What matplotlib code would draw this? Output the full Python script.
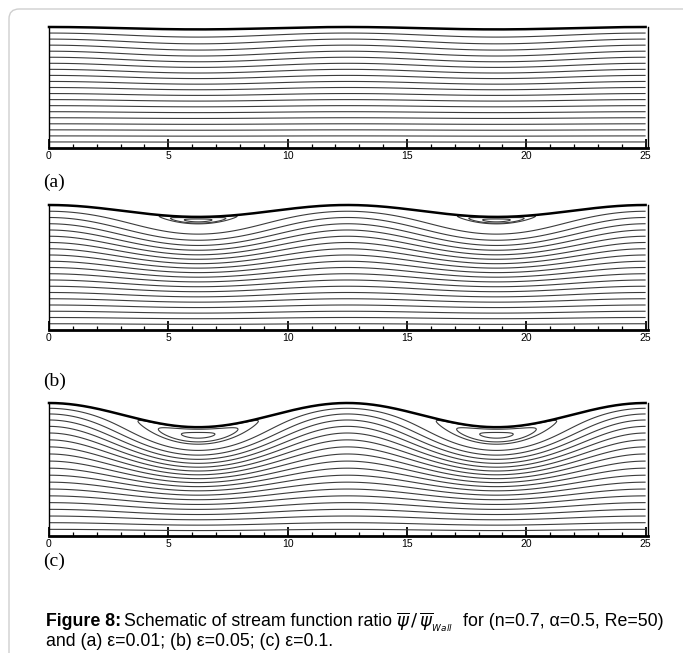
import numpy as np
import matplotlib
matplotlib.use("Agg")
import matplotlib.pyplot as plt
from matplotlib.ticker import MultipleLocator
from matplotlib.patches import FancyBboxPatch

# Dados da figura
comprimento = 25.0          # comprimento do canal
lambda_onda = 12.5          # comprimento de onda da parede superior
epsilons = [0.01, 0.05, 0.1]
rotulos = ['(a)', '(b)', '(c)']
a_crista = [0.0, 0.0, -0.3]     # intensidade da perturbacao na crista
a_vale = [0.3, 1.3, 2.0]        # intensidade da perturbacao no vale (vortice)
niveis = [0.05, 0.10, 0.15, 0.20, 0.25, 0.30, 0.35, 0.40, 0.45, 0.50,
          0.55, 0.60, 0.65, 0.70, 0.75, 0.80, 0.85, 0.90, 0.95]
niveis_vortice = [[], [1.0005, 1.002, 1.0038], [1.002, 1.016, 1.031]]
marcas_x = [0, 5, 10, 15, 20, 25]

# Posicoes dos paineis em pixels (esquerda, topo, direita, base)
W, H = 683, 653
paineis = [(49, 27, 648, 148), (49, 205, 648, 330), (49, 403, 648, 536)]
rotulo_y = [182, 381, 561]


def funcao_corrente(eps, ac, av):
    x = np.linspace(0, comprimento, 700)
    eta = np.linspace(0, 1, 300)
    X, ETA = np.meshgrid(x, eta)
    h = 1 + eps * np.cos(2 * np.pi * X / lambda_onda)
    s = (1 - np.cos(2 * np.pi * X / lambda_onda)) / 2
    a = ac + (av - ac) * s
    psi = ETA + a * ETA**4 * (1 - ETA)
    return X, ETA * h, psi, x, 1 + eps * np.cos(2 * np.pi * x / lambda_onda)


fig = plt.figure(figsize=(W / 100, H / 100), dpi=100)

# moldura cinza arredondada
moldura = FancyBboxPatch((9 / W, -0.1), (W + 20) / W, (H - 9) / H + 0.1,
                         boxstyle="round,pad=0,rounding_size=0.015",
                         transform=fig.transFigure, fill=False,
                         edgecolor='#cfcfcf', linewidth=1.0)
fig.patches.append(moldura)

for i in range(3):
    l, t, r, b = paineis[i]
    ax = fig.add_axes([l / W, 1 - b / H, (r - l) / W, (b - t) / H])
    X, Y, psi, x, h = funcao_corrente(epsilons[i], a_crista[i], a_vale[i])

    # Linhas de corrente
    ax.contour(X, Y, psi, levels=niveis, colors='#3c3c3c', linewidths=0.8)
    if niveis_vortice[i]:
        ax.contour(X, Y, psi, levels=niveis_vortice[i], colors='#3c3c3c',
                   linewidths=0.8)

    # Parede superior
    ax.plot(x, h, color='black', linewidth=1.8, clip_on=False)

    ax.set_xlim(0, 25.1)
    ax.set_ylim(0, 1 + epsilons[i])
    ax.spines['top'].set_visible(False)
    ax.spines['left'].set_linewidth(1.0)
    ax.spines['right'].set_linewidth(1.0)
    ax.spines['bottom'].set_linewidth(2.0)
    ax.set_yticks([])
    ax.set_xticks(marcas_x)
    ax.set_xticklabels([str(v) for v in marcas_x], fontsize=7.5,
                       family='Liberation Sans')
    ax.xaxis.set_minor_locator(MultipleLocator(1))
    ax.tick_params(axis='x', which='major', direction='in', length=6.5,
                   width=1.3, pad=2)
    ax.tick_params(axis='x', which='minor', direction='in', length=3.2,
                   width=0.9)

    fig.text(43 / W, 1 - rotulo_y[i] / H, rotulos[i], fontsize=14,
             family='Liberation Serif', va='center', ha='left')

# Legenda da figura
y1 = 1 - 622 / H
y2 = 1 - 641 / H
fs = 12.8
t1 = fig.text(46 / W, y1, 'Figure 8:', fontsize=fs, weight='bold',
              family='Liberation Sans', va='center')
fig.canvas.draw()
bb = t1.get_window_extent()
t2 = fig.text(bb.x1 / W + 3 / W, y1, 'Schematic of stream function ratio',
              fontsize=fs, family='Liberation Sans', va='center')
bb = t2.get_window_extent()
t3 = fig.text(bb.x1 / W + 4 / W, y1,
              r'$\overline{\psi}\,/\,\overline{\psi}_{_{Wall}}$',
              fontsize=13, va='center')
bb = t3.get_window_extent()
fig.text(bb.x1 / W + 10 / W, y1, 'for (n=0.7, \u03b1=0.5, Re=50)',
         fontsize=fs, family='Liberation Sans', va='center')
fig.text(46 / W, y2, 'and (a) \u03b5=0.01; (b) \u03b5=0.05; (c) \u03b5=0.1.',
         fontsize=fs, family='Liberation Sans', va='center')

fig.savefig('out.png', dpi=100)
